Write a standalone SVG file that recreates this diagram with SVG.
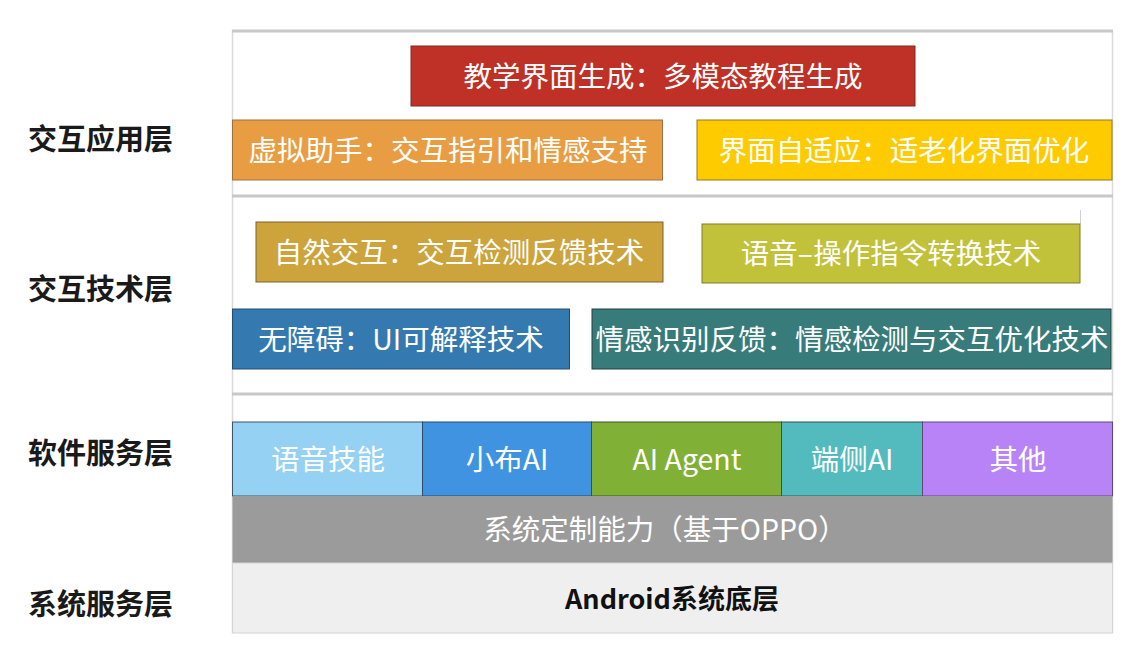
<svg xmlns="http://www.w3.org/2000/svg" width="1142" height="662" viewBox="0 0 1142 662">
<style>
text{font-family:"Noto Sans CJK SC","Noto Sans",sans-serif;dominant-baseline:central;text-anchor:middle}
.w{fill:#ffffff;font-size:28.5px}
.lbl{fill:#1a1a1a;font-size:29px;font-weight:bold;text-anchor:start}
.sep{stroke:#c8c8c8;stroke-width:3}
.edge{stroke:#dadada;stroke-width:1.5;fill:none}
</style>
<rect width="1142" height="662" fill="#ffffff"/>
<g id="frame">
<line class="edge" x1="232.5" y1="31" x2="232.5" y2="633"/>
<line class="edge" x1="1112.5" y1="31" x2="1112.5" y2="633"/>
<line class="sep" x1="232" y1="31" x2="1113" y2="31"/>
<line class="sep" x1="232" y1="196" x2="1113" y2="196"/>
<line class="sep" x1="232" y1="394" x2="1113" y2="394"/>
<line x1="1080.5" y1="210" x2="1080.5" y2="224" stroke="#d0d0d0" stroke-width="1"/>
</g>
<g id="labels">
<text class="lbl" x="28" y="137">交互应用层</text>
<text class="lbl" x="28" y="287">交互技术层</text>
<text class="lbl" x="28" y="451">软件服务层</text>
<text class="lbl" x="28" y="602">系统服务层</text>
</g>
<g id="n-teach"><rect x="411" y="46" width="504" height="60" fill="#bf3127" stroke="#7e2a22" stroke-width="1"/><text class="w" x="663" y="74">教学界面生成：多模态教程生成</text></g>
<g id="n-assist"><rect x="232.5" y="120" width="430" height="60" fill="#e99d43" stroke="#9c7040" stroke-width="1"/><text class="w" x="448" y="148">虚拟助手：交互指引和情感支持</text></g>
<g id="n-adapt"><rect x="697" y="120" width="415" height="60" fill="#fdcb00" stroke="#8f7a20" stroke-width="1"/><text class="w" x="904" y="148">界面自适应：适老化界面优化</text></g>
<g id="n-natural"><rect x="256" y="222" width="407" height="60" fill="#cca43b" stroke="#7a6430" stroke-width="1"/><text class="w" x="459" y="250">自然交互：交互检测反馈技术</text></g>
<g id="n-voice"><rect x="702" y="224" width="378" height="59" fill="#c2c13a" stroke="#7e7d2e" stroke-width="1"/><text class="w" x="891" y="251">语音–操作指令转换技术</text></g>
<g id="n-access"><rect x="232.5" y="309" width="337" height="60" fill="#347ab0" stroke="#254e6e" stroke-width="1"/><text class="w" x="401" y="337">无障碍：UI可解释技术</text></g>
<g id="n-emotion"><rect x="592" y="309" width="519" height="60" fill="#377c7a" stroke="#22403f" stroke-width="1"/><text class="w" x="852" y="337">情感识别反馈：情感检测与交互优化技术</text></g>
<g id="n-skill"><rect x="232.5" y="422" width="190" height="74" fill="#94d1f3" stroke="#3e5566" stroke-width="1"/><text class="w" x="328" y="457">语音技能</text></g>
<g id="n-xiaobu"><rect x="422.5" y="422" width="169" height="74" fill="#3f93e1" stroke="#2b4a66" stroke-width="1"/><text class="w" x="507" y="457">小布AI</text></g>
<g id="n-agent"><rect x="591.5" y="422" width="190" height="74" fill="#80b035" stroke="#3e5526" stroke-width="1"/><text class="w" x="687" y="457">AI Agent</text></g>
<g id="n-edge"><rect x="781.5" y="422" width="141" height="74" fill="#53bbbe" stroke="#2f5556" stroke-width="1"/><text class="w" x="852" y="457">端侧AI</text></g>
<g id="n-other"><rect x="922.5" y="422" width="190" height="74" fill="#b983f8" stroke="#5e4a7a" stroke-width="1"/><text class="w" x="1018" y="457">其他</text></g>
<g id="n-custom"><rect x="232.5" y="496" width="880" height="67" fill="#9b9b9b"/><text class="w" x="665" y="527">系统定制能力（基于OPPO）</text></g>
<g id="n-android"><rect x="232.5" y="563" width="880" height="70" fill="#efefef" stroke="#d4d4d4" stroke-width="1"/><text x="672" y="597" style="fill:#111111;font-size:27px;font-weight:bold">Android系统底层</text></g>
<g id="connectors"></g>
</svg>
